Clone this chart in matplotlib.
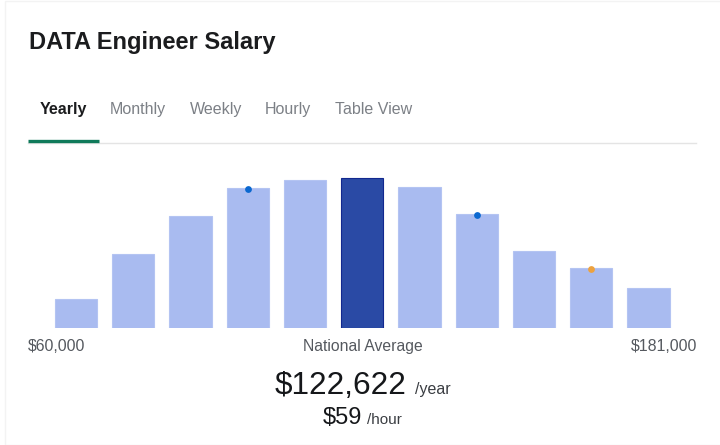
import matplotlib.pyplot as plt
from matplotlib.patches import Rectangle

plt.rcParams["font.family"] = ["Liberation Sans", "DejaVu Sans"]

W, H = 720, 445

# bar heights
bins = list(range(11))
heights = [29, 74, 112, 140, 148, 150, 141, 114, 77, 60, 40]
highlight = 5
blue_dots = [3, 7]
orange_dots = [9]
tabs = ["Yearly", "Monthly", "Weekly", "Hourly", "Table View"]
tab_x = [40, 110, 190, 265, 335]


def px(x, y):
    return x / W, 1 - y / H


fig = plt.figure(figsize=(W / 100, H / 100), dpi=100, facecolor="white")

# card edge
fig.add_artist(Rectangle(px(4.5, 445), 760 / W, 444.5 / H, transform=fig.transFigure, fill=False,
                         ec="#f3f3f3", lw=1))

# chart
left, right, base, top = 47.4, 677.1, 328, 170
ax = fig.add_axes([left / W, 1 - base / H, (right - left) / W, (base - top) / H])
ax.set_xlim(-0.5, 10.5)
ax.set_ylim(0, base - top)
ax.axis("off")
colors = ["#2a4aa5" if i == highlight else "#a9bbf0" for i in bins]
edges = ["#12288f" if i == highlight else "#b4c4f2" for i in bins]
ax.bar(bins, heights, width=0.74, color=colors, edgecolor=edges, linewidth=0.8)
ax.scatter(blue_dots, [heights[i] - 1 for i in blue_dots], s=24, color="#0b68d0", zorder=3,
           linewidths=0, clip_on=False)
ax.scatter(orange_dots, [heights[i] - 1 for i in orange_dots], s=24, color="#eda23f", zorder=3,
           linewidths=0, clip_on=False)

# header
fig.text(*px(29, 49), "DATA Engineer Salary", fontsize=17, fontweight="bold", color="#1b1c1e",
         ha="left", va="baseline")
for i, (name, x) in enumerate(zip(tabs, tab_x)):
    fig.text(*px(x, 114), name, fontsize=11.5, ha="left", va="baseline",
             fontweight="bold" if i == 0 else "normal",
             color="#1b1c1e" if i == 0 else "#7c8086")
fig.add_artist(plt.Line2D([28 / W, 696 / W], [1 - 142.5 / H] * 2, color="#e4e4e4", lw=1))
fig.add_artist(plt.Line2D([28 / W, 99 / W], [1 - 140.5 / H] * 2, color="#0f7a5a", lw=2.4,
                          solid_capstyle="butt"))

# axis labels
fig.text(*px(28, 351), "$60,000", fontsize=11.4, color="#55595f", ha="left", va="baseline", parse_math=False)
fig.text(*px(362.5, 351), "National Average", fontsize=11.3, color="#55595f", ha="center", va="baseline")
fig.text(*px(697, 351), "$181,000", fontsize=11.4, color="#55595f", ha="right", va="baseline", parse_math=False)

# summary
fig.text(*px(275, 394), "$122,622", fontsize=22.7, color="#15171a", ha="left", va="baseline", parse_math=False)
fig.text(*px(415, 394), "/year", fontsize=11.5, color="#3a3d42", ha="left", va="baseline")
fig.text(*px(323, 424), "$59", fontsize=17, color="#15171a", ha="left", va="baseline", parse_math=False)
fig.text(*px(367, 424), "/hour", fontsize=11, color="#3a3d42", ha="left", va="baseline")

fig.savefig("out.png", dpi=100)
